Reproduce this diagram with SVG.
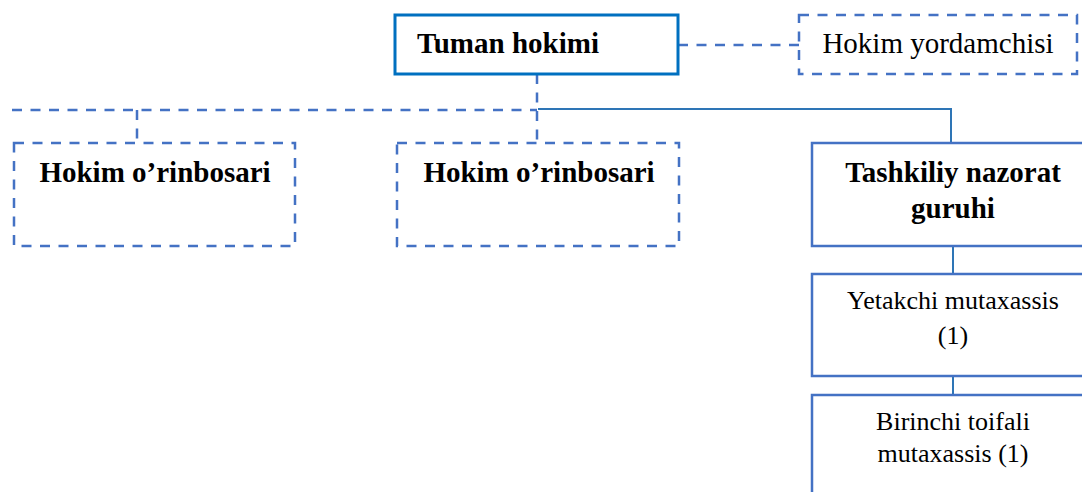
<svg xmlns="http://www.w3.org/2000/svg" width="1082" height="492" viewBox="0 0 1082 492">
<style>
.bg{fill:#ffffff}
.dash{fill:none;stroke:#4472C4;stroke-width:2.5;stroke-dasharray:10,8.5}
.solidbox{fill:#ffffff;stroke:#4472C4;stroke-width:2.5}
.main{fill:#ffffff;stroke:#0070C0;stroke-width:3}
.dashbox{fill:#ffffff;stroke:#4472C4;stroke-width:2.5;stroke-dasharray:10,8.5}
.line{fill:none;stroke:#2E75B6;stroke-width:2}
.b{font-family:"Liberation Serif","Times New Roman",serif;font-weight:bold;font-size:29px;fill:#000;text-anchor:middle}
.r{font-family:"Liberation Serif","Times New Roman",serif;font-size:26px;fill:#000;text-anchor:middle}
</style>
<rect class="bg" x="0" y="0" width="1082" height="492"/>
<g id="connectors">
<line class="dash" x1="678" y1="45" x2="799" y2="45"/>
<line class="dash" x1="537" y1="74" x2="537" y2="143"/>
<line class="dash" x1="12" y1="110" x2="537" y2="110"/>
<line class="dash" x1="137" y1="110" x2="137" y2="143"/>
<polyline class="line" points="538,109 951,109 951,143"/>
<line class="line" x1="953" y1="246" x2="953" y2="274"/>
<line class="line" x1="953" y1="376" x2="953" y2="395"/>
</g>
<g id="tuman-hokimi">
<rect class="main" x="395" y="15" width="283" height="59"/>
<text class="b" x="508" y="53">Tuman hokimi</text>
</g>
<g id="hokim-yordamchisi">
<rect class="dashbox" x="799" y="15" width="278" height="59"/>
<text class="r" x="938" y="53" style="font-size:29px">Hokim yordamchisi</text>
</g>
<g id="hokim-orinbosari-1">
<rect class="dashbox" x="14" y="143" width="281" height="103"/>
<text class="b" x="155" y="182">Hokim o’rinbosari</text>
</g>
<g id="hokim-orinbosari-2">
<rect class="dashbox" x="397" y="143" width="282" height="103"/>
<text class="b" x="539" y="182">Hokim o’rinbosari</text>
</g>
<g id="tashkiliy-nazorat">
<rect class="solidbox" x="812" y="143" width="290" height="103"/>
<text class="b" x="953" y="182">Tashkiliy nazorat</text>
<text class="b" x="953" y="218">guruhi</text>
</g>
<g id="yetakchi">
<rect class="solidbox" x="812" y="274" width="290" height="102"/>
<text class="r" x="953" y="309">Yetakchi mutaxassis</text>
<text class="r" x="953" y="344">(1)</text>
</g>
<g id="birinchi">
<rect class="solidbox" x="812" y="395" width="290" height="120"/>
<text class="r" x="953" y="430">Birinchi toifali</text>
<text class="r" x="953" y="462">mutaxassis (1)</text>
</g>
</svg>
